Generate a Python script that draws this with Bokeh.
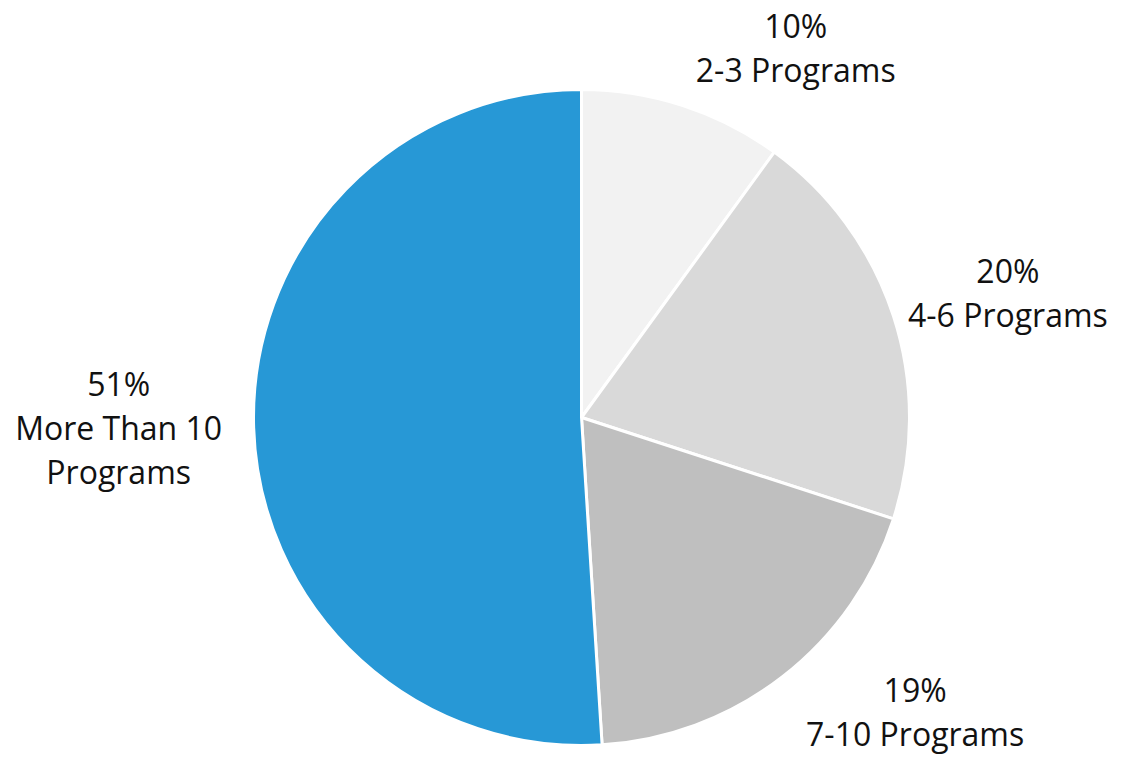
import math
from bokeh.plotting import figure
from bokeh.models import ColumnDataSource, Range1d
from bokeh.core.properties import value
from bokeh.embed import file_html
from bokeh.resources import INLINE

# ---- data ----
categories = ["2-3 Programs", "4-6 Programs", "7-10 Programs", "More Than 10 Programs"]
label_lines = [["10%", "2-3 Programs"], ["20%", "4-6 Programs"],
               ["19%", "7-10 Programs"], ["51%", "More Than 10", "Programs"]]
shares = [10, 20, 19, 51]
colors = ["#F2F2F2", "#D9D9D9", "#BFBFBF", "#2798D6"]

# ---- layout (pixels) ----
W, H = 1110, 756
CX, CY = 581, 339       # pie centre in data (pixel) units
R = 328
LABEL_R = 360
LINE_STEP = 44
# nudges of first-line baseline from radial anchor (dx, dy) in pixels (y up)
LABEL_NUDGE = [(103, 50), (84, 36), (113, 12), (-103, 45)]

total = float(sum(shares))
starts, ends, mids = [], [], []
cum = 0.0
for s in shares:
    a0 = math.pi / 2 - 2 * math.pi * cum / total
    cum += s
    a1 = math.pi / 2 - 2 * math.pi * cum / total
    starts.append(a0)
    ends.append(a1)
    mids.append((a0 + a1) / 2)

p = figure(width=W, height=H, output_backend="svg", toolbar_location=None,
           x_range=Range1d(0, W), y_range=Range1d(0, H), min_border=0)
p.axis.visible = False
p.grid.visible = False
p.outline_line_color = None
p.background_fill_color = "white"

src = ColumnDataSource(dict(x=[CX] * len(shares), y=[CY] * len(shares),
                            start=starts, end=ends, color=colors))
p.wedge(x="x", y="y", radius=R, start_angle="start", end_angle="end",
        direction="clock", fill_color="color", line_color="white",
        line_width=3, source=src)

tx, ty, tt = [], [], []
for lines, m, (dx, dy) in zip(label_lines, mids, LABEL_NUDGE):
    ax = CX + LABEL_R * math.cos(m) + dx
    ay = CY + LABEL_R * math.sin(m) + dy
    for i, ln in enumerate(lines):
        tx.append(ax)
        ty.append(ay - i * LINE_STEP)
        tt.append(ln)

p.text(x=tx, y=ty, text=tt, text_align="center", text_baseline="alphabetic",
       text_font=value("Open Sans"), text_font_size="32px", text_color="#111111")

open("out.html", "w").write(file_html(p, INLINE))
